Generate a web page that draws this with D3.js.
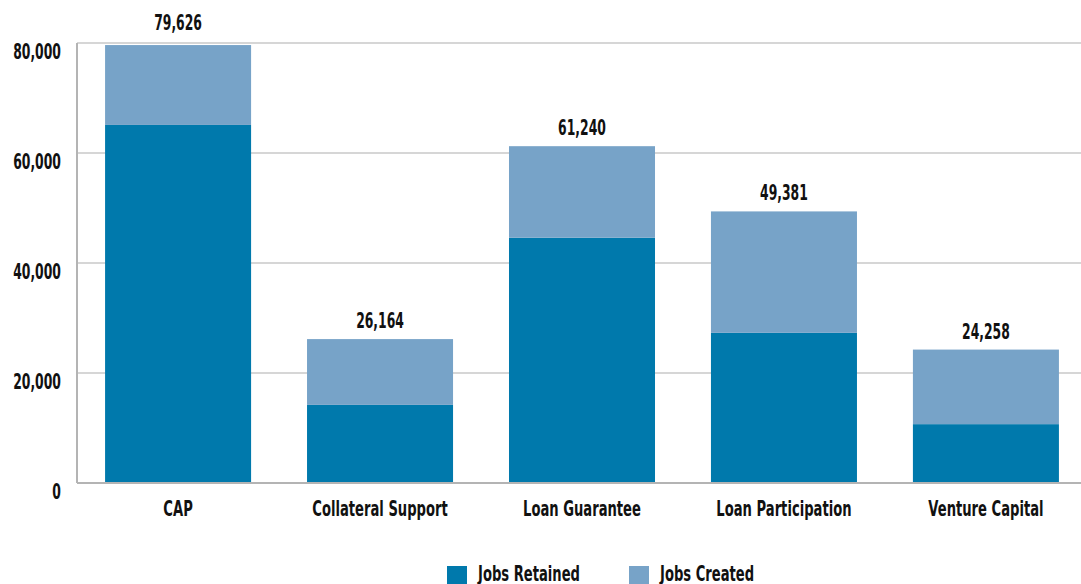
<!DOCTYPE html>
<html>
<head>
<meta charset="utf-8">
<script src="https://cdn.jsdelivr.net/npm/d3@7"></script>
<style>
  body { margin: 0; background: #fff; }
  text { font-family: "DejaVu Sans", sans-serif; font-weight: bold; fill: #111; }
</style>
</head>
<body>
<svg width="1081" height="584"></svg>
<script>
const categories = ["CAP", "Collateral Support", "Loan Guarantee", "Loan Participation", "Venture Capital"];
const totals = [79626, 26164, 61240, 49381, 24258];
const retained = [65100, 14200, 44600, 27300, 10700];
const created = totals.map((t, i) => t - retained[i]);
const yTicks = [0, 20000, 40000, 60000, 80000];
const seriesNames = ["Jobs Retained", "Jobs Created"];
const colors = ["#0079ac", "#77a3c8"];

const svg = d3.select("svg");
const plotLeft = 77, plotRight = 1087, plotTop = 43, plotBottom = 483;
const fontSize = 21;
// the original uses a narrow DIN-like face, so labels get squeezed
const squeezeWords = 0.625, squeezeNums = 0.59;

const x = d3.scaleBand().domain(categories).range([plotLeft, plotRight])
    .paddingInner(0.277).paddingOuter(0.139);
const y = d3.scaleLinear().domain([0, 80000]).range([plotBottom, plotTop]);

// gridlines
svg.append("g").selectAll("line")
    .data(yTicks.slice(1))
    .enter().append("line")
    .attr("x1", plotLeft).attr("x2", plotRight)
    .attr("y1", d => y(d)).attr("y2", d => y(d))
    .attr("stroke", "#c8c8c8").attr("stroke-width", 1.5);

const rows = categories.map((c, i) => ({ cat: c, retained: retained[i], created: created[i] }));
const stack = d3.stack().keys(["retained", "created"])(rows);

svg.append("g").selectAll("g")
    .data(stack)
    .enter().append("g")
    .attr("fill", (d, i) => colors[i])
    .selectAll("rect")
    .data(d => d)
    .enter().append("rect")
    .attr("x", d => x(d.data.cat))
    .attr("width", x.bandwidth())
    .attr("y", d => y(d[1]))
    .attr("height", d => y(d[0]) - y(d[1]));

// axis lines
svg.append("line").attr("x1", plotLeft).attr("x2", plotLeft).attr("y1", plotTop).attr("y2", plotBottom)
    .attr("stroke", "#b4b4b4").attr("stroke-width", 2);
svg.append("line").attr("x1", plotLeft).attr("x2", plotRight).attr("y1", plotBottom).attr("y2", plotBottom)
    .attr("stroke", "#b4b4b4").attr("stroke-width", 2);

const fmt = d3.format(",");

// y tick labels (hang below their gridline)
svg.append("g").selectAll("text")
    .data(yTicks)
    .enter().append("text")
    .attr("class", "num")
    .attr("x", 61).attr("y", d => y(d) + 15.5)
    .attr("text-anchor", "end")
    .text(d => fmt(d));

// category labels
svg.append("g").selectAll("text")
    .data(categories)
    .enter().append("text")
    .attr("x", d => x(d) + x.bandwidth() / 2)
    .attr("y", 516)
    .attr("text-anchor", "middle")
    .text(d => d);

// total labels
svg.append("g").selectAll("text")
    .data(totals)
    .enter().append("text")
    .attr("class", "num")
    .attr("x", (d, i) => x(categories[i]) + x.bandwidth() / 2)
    .attr("y", d => y(d) < 60 ? 30 : y(d) - 11)
    .attr("text-anchor", "middle")
    .text(d => fmt(d));

// legend
const legendX = [447, 629];
const legend = svg.append("g").selectAll("g")
    .data(seriesNames)
    .enter().append("g")
    .attr("transform", (d, i) => `translate(${legendX[i]},566)`);
legend.append("rect").attr("width", 20).attr("height", 20).attr("fill", (d, i) => colors[i]);
legend.append("text").attr("x", 31).attr("y", 14.5).text(d => d);

svg.selectAll("text")
    .attr("font-size", fontSize)
    .each(function() {
        const k = this.classList.contains("num") ? squeezeNums : squeezeWords;
        const w = this.getComputedTextLength();
        d3.select(this).attr("textLength", w * k).attr("lengthAdjust", "spacingAndGlyphs");
    });
</script>
</body>
</html>
